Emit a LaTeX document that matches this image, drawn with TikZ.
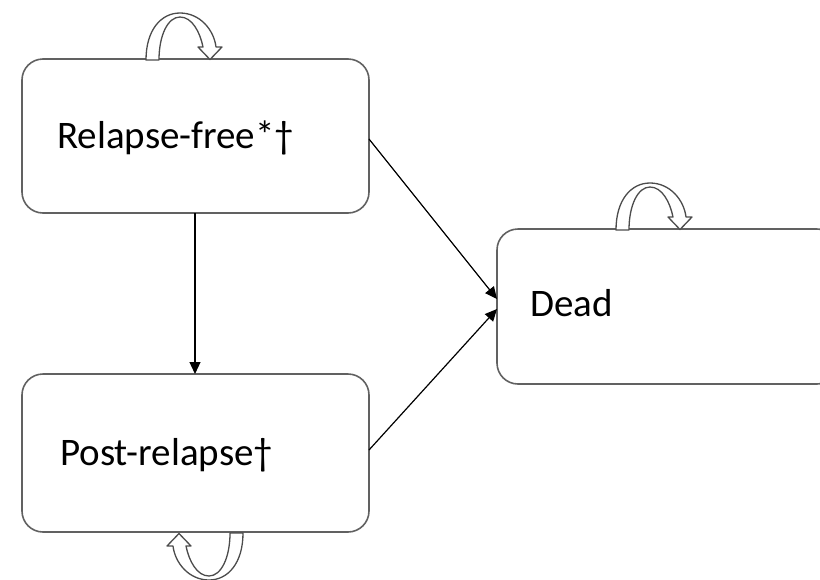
\documentclass[tikz,border=0pt]{standalone}
\usepackage{fontspec}
\setmainfont{Carlito}
\usetikzlibrary{arrows.meta}
\begin{document}
\begin{tikzpicture}[x=1pt,y=-1pt,
  statebox/.style={draw=black!62,line width=1.6pt,rounded corners=21pt},
  statelabel/.style={font=\fontsize{39}{41}\selectfont,text=black,anchor=base west,inner sep=0pt},
  trans/.style={draw=black,line width=1.2pt,-{Triangle[length=12pt,width=11pt]}},
  loopshape/.style={draw=black!70,line width=1.3pt,fill=white,line join=round}]
\useasboundingbox (0,0) rectangle (820,579);
\begin{scope}
\clip (0,0) rectangle (820,579);
% boxes
\draw[statebox] (22,59) rectangle (369,213);
\draw[statebox] (22,374) rectangle (369,532);
\draw[statebox] (497,229) rectangle (838,384);
\node[statelabel] (rflab) at (57,148) {Relapse-free*†};
\node[statelabel] (prlab) at (60,465) {Post-relapse†};
\node[statelabel] (deadlab) at (530,316) {Dead};
\coordinate (rfS) at (195,213);
\coordinate (prN) at (195,374);
\coordinate (rfE) at (369,139);
\coordinate (prE) at (369,450);
\coordinate (deadW1) at (497,299);
\coordinate (deadW2) at (497,309);
\draw[trans] (rfS) -- (prN);
\draw[trans] (rfE) -- (deadW1);
\draw[trans] (prE) -- (deadW2);
% loop arrows
\def\looppath{(146,60) .. controls (146,30) and (161,13) .. (180,13)
  .. controls (200,13) and (214,30) .. (216,47) -- (222,47) -- (210,59.5) -- (198,47) -- (203,47)
  .. controls (200,32) and (192,17) .. (180,17) .. controls (168,17) and (159,35) .. (159,60) -- cycle}
\path[loopshape] \looppath;
\begin{scope}[shift={(470,170)}]
\path[loopshape] \looppath;
\end{scope}
\begin{scope}[shift={(389,593)},xscale=-1,yscale=-1]
\path[loopshape] \looppath;
\end{scope}
\end{scope}
\end{tikzpicture}
\end{document}
